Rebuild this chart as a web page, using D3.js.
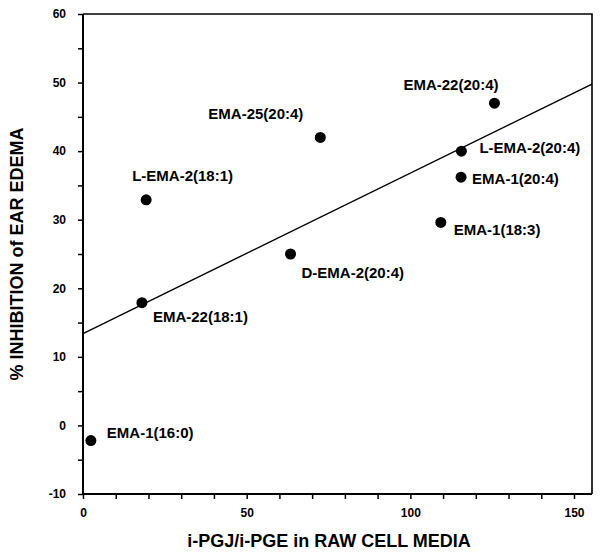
<!DOCTYPE html>
<html>
<head>
<meta charset="utf-8">
<script src="https://cdn.jsdelivr.net/npm/d3@7"></script>
<style>
  body { margin: 0; background: #fff; }
  svg { display: block; }
  text { font-family: "Liberation Sans", Arial, sans-serif; font-weight: bold; fill: #000; }
</style>
</head>
<body>
<svg id="chart" width="600" height="557"></svg>
<script>
// ---- data ----
const labels = ["EMA-1(16:0)", "EMA-22(18:1)", "L-EMA-2(18:1)", "D-EMA-2(20:4)", "EMA-25(20:4)",
                "EMA-22(20:4)", "L-EMA-2(20:4)", "EMA-1(20:4)", "EMA-1(18:3)"];
const ratioValues = [2.4, 18.0, 19.3, 63.4, 72.5, 125.7, 115.6, 115.5, 109.3];
const inhibitionValues = [-2.2, 17.9, 32.9, 25.0, 42.0, 47.0, 40.0, 36.2, 29.6];
const fitIntercept = 13.4;
const fitSlope = 0.234;
const xTickValues = d3.range(0, 151, 10);
const xTickLabels = [0, 50, 100, 150];
const yTickValues = d3.range(-10, 61, 5);
const yTickLabels = [-10, 0, 10, 20, 30, 40, 50, 60];
const xTitle = "i-PGJ/i-PGE in RAW CELL MEDIA";
const yTitle = "% INHIBITION of EAR EDEMA";

// ---- layout (label offsets in px, relative to point) ----
const labelOffsets = [[16, -3], [11, 19], [-14, -19], [11, 24], [-112, -18],
                      [-91, -13], [18, 2], [11, 7], [13, 13]];

const svg = d3.select("#chart");
const mLeft = 83, mRight = 592, mTop = 14, mBottom = 494;

const x = d3.scaleLinear().domain([0, 155.5]).range([mLeft, mRight]);
const y = d3.scaleLinear().domain([-10, 60]).range([mBottom, mTop]);

// frame (top & right)
svg.append("path")
  .attr("d", `M${mLeft},${mTop}H${mRight}V${mBottom}`)
  .attr("fill", "none").attr("stroke", "#000").attr("stroke-width", 1.6);

// axes
const xAxis = d3.axisBottom(x).tickValues(xTickValues).tickSize(5).tickSizeOuter(0).tickPadding(9.5)
  .tickFormat(d => xTickLabels.includes(d) ? d : "");
const yAxis = d3.axisLeft(y).tickValues(yTickValues).tickSize(5).tickSizeOuter(0).tickPadding(12)
  .tickFormat(d => yTickLabels.includes(d) ? d : "");

const gx = svg.append("g").attr("transform", `translate(0,${mBottom})`).call(xAxis);
const gy = svg.append("g").attr("transform", `translate(${mLeft},0)`).call(yAxis);
[gx, gy].forEach(g => {
  g.select(".domain").attr("stroke-width", 2);
  g.selectAll(".tick line").attr("stroke-width", 1.5);
  g.selectAll(".tick text").style("font-size", "12px").style("font-family", "'Liberation Sans', Arial, sans-serif").style("font-weight", "bold");
});
gx.select(".domain").attr("d", `M${mLeft},0H${mRight}`);
gy.select(".domain").attr("d", `M0,${mTop}V${mBottom}`);

// regression line
svg.append("line")
  .attr("x1", x(0)).attr("y1", y(fitIntercept))
  .attr("x2", x(155.5)).attr("y2", y(fitIntercept + fitSlope * 155.5))
  .attr("stroke", "#000").attr("stroke-width", 1.4);

// points
const pts = labels.map((l, i) => ({ label: l, x: ratioValues[i], y: inhibitionValues[i], off: labelOffsets[i] }));
svg.selectAll("circle.pt").data(pts).enter().append("circle")
  .attr("class", "pt")
  .attr("cx", d => x(d.x)).attr("cy", d => y(d.y)).attr("r", 5.5).attr("fill", "#000");

svg.selectAll("text.lbl").data(pts).enter().append("text")
  .attr("class", "lbl")
  .attr("x", d => x(d.x) + d.off[0]).attr("y", d => y(d.y) + d.off[1])
  .style("font-size", "15px")
  .text(d => d.label);

// axis titles
svg.append("text")
  .attr("x", 329).attr("y", 547).attr("text-anchor", "middle")
  .style("font-size", "18px").text(xTitle);
svg.append("text")
  .attr("transform", "translate(23,254) rotate(-90)").attr("text-anchor", "middle")
  .style("font-size", "18px").text(yTitle);
</script>
</body>
</html>
